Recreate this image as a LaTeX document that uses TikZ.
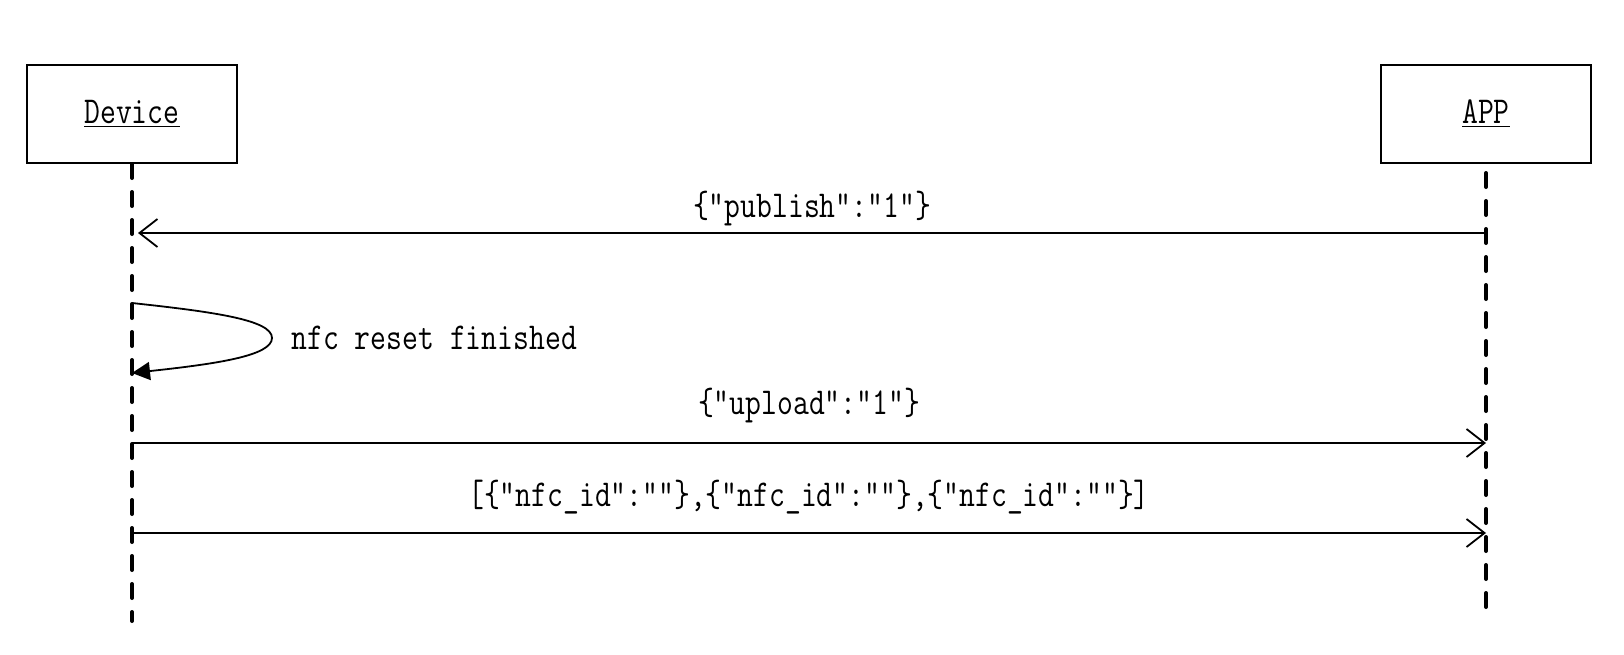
\documentclass[tikz,border=0pt]{standalone}
\usepackage{fontspec}
\setmonofont[FakeStretch=0.81]{Latin Modern Mono}
\usepackage{tikz}
\usetikzlibrary{arrows.meta,positioning}

\begin{document}
\begin{tikzpicture}[x=0.5pt,y=-0.5pt,
		font=\ttfamily\fontsize{19}{21}\selectfont,
		actor/.style={draw,line width=1pt,minimum width=105pt,minimum height=49pt,inner sep=0pt},
		lifeline/.style={line width=2pt,line cap=round,dash pattern=on 7pt off 7pt},
		msg/.style={line width=0.9pt,-{Straight Barb[length=9pt,width=14pt]}},
		selfmsg/.style={line width=0.9pt,-{Triangle[length=9pt,width=9pt]}}]
		\useasboundingbox (0,0) rectangle (1624,654);
		% actors
		\node[actor] (device) at (132,114) {\underline{Device}};
		\node[actor] (app) at (1486,114) {\underline{APP}};
		% lifelines
		\coordinate (devend) at (132,621);
		\coordinate (apptop) at (1486,173);
		\coordinate (append) at (1486,611);
		\draw[lifeline] (device.south) -- (devend);
		\draw[lifeline] (apptop) -- (append);
		% messages
		\coordinate (pubfrom) at (1486,233);
		\coordinate (pubto) at (138,233);
		\draw[msg] (pubfrom) -- node[yshift=12pt] {\{"publish":"1"\}} (pubto);
		\coordinate (loopa) at (132,303);
		\coordinate (loopb) at (132,373);
		\draw[selfmsg] (loopa) .. controls (215,312) and (272,320) .. (272,338)
			node[right=6pt] {nfc reset finished}
			.. controls (272,356) and (215,364) .. (loopb);
		\coordinate (upfrom) at (132,443);
		\coordinate (upto) at (1486,443);
		\draw[msg] (upfrom) -- node[yshift=18.5pt] {\{"upload":"1"\}} (upto);
		\coordinate (idfrom) at (132,533);
		\coordinate (idto) at (1486,533);
		\draw[msg] (idfrom) -- node[yshift=18pt] {[\{"nfc\_id":""\},\{"nfc\_id":""\},\{"nfc\_id":""\}]} (idto);
		\end{tikzpicture}
\end{document}
